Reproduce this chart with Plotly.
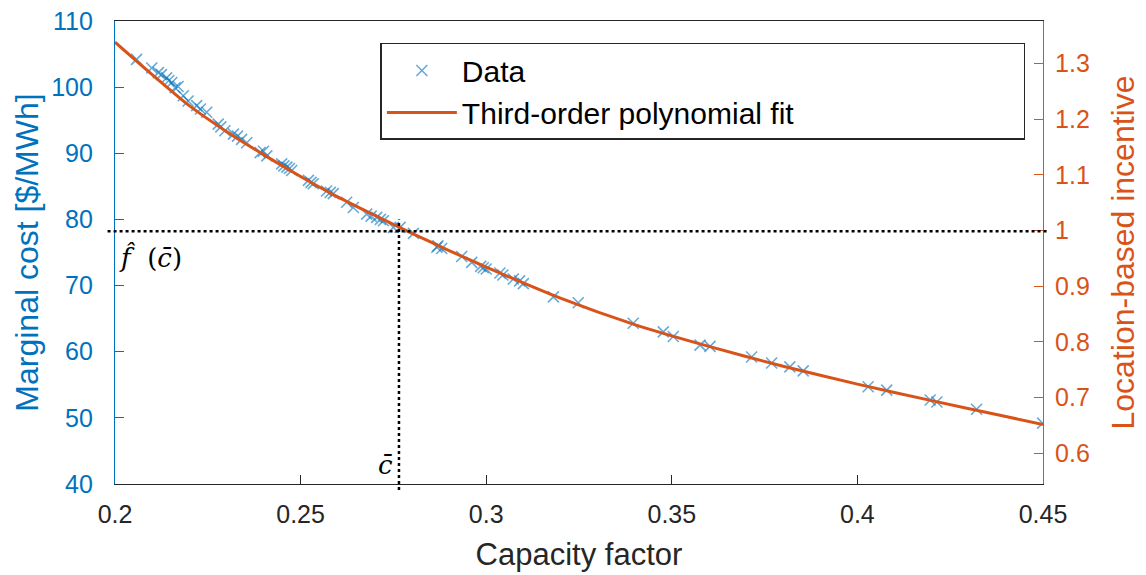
import plotly.graph_objects as go

# ---- data ----
data_cf = [0.2058, 0.2099, 0.2117, 0.2139, 0.2153, 0.2162, 0.2184, 0.2197, 0.2220, 0.2247,
           0.2278, 0.2296, 0.2319, 0.2341, 0.2355, 0.2391, 0.2409, 0.2449, 0.2463, 0.2476,
           0.2521, 0.2534, 0.2570, 0.2588, 0.2624, 0.2642, 0.2678, 0.2705, 0.2723, 0.2750,
           0.2768, 0.2804, 0.2867, 0.2880, 0.2934, 0.2961, 0.2992, 0.3037, 0.3073, 0.3100,
           0.3181, 0.3248, 0.3396, 0.3477, 0.3504, 0.3576, 0.3603, 0.3715, 0.3769, 0.3818,
           0.3854, 0.4029, 0.4079, 0.4196, 0.4214, 0.4321, 0.4499,
           0.2125, 0.2145, 0.2170, 0.2230, 0.2285, 0.2330, 0.2400, 0.2455, 0.2470, 0.2528,
           0.2580, 0.2690, 0.2715, 0.2870, 0.2985, 0.3000, 0.3045, 0.3090]
data_cost = [104.2, 102.9, 102.2, 101.4, 100.7, 99.9, 98.7, 97.9, 97.2, 96.2,
             94.4, 93.4, 92.9, 92.1, 91.6, 90.1, 89.6, 88.4, 87.9, 87.4,
             85.9, 85.4, 84.3, 83.9, 82.6, 81.8, 80.8, 80.3, 79.8, 78.8,
             78.8, 77.9, 75.8, 75.6, 74.4, 73.5, 72.7, 71.9, 71.0, 70.3,
             68.3, 67.4, 64.3, 63.0, 62.3, 61.0, 60.8, 59.2, 58.3, 57.7,
             57.1, 54.7, 54.2, 52.7, 52.4, 51.3, 49.2,
             101.9, 101.0, 100.1, 96.7, 94.0, 92.6, 90.3, 88.1, 87.7, 85.6,
             84.1, 80.5, 80.0, 76.0, 72.9, 72.5, 71.6, 70.7]

fit_cf = [0.20, 0.21, 0.22, 0.23, 0.24, 0.25, 0.26, 0.27, 0.28, 0.29, 0.30, 0.32, 0.34,
          0.36, 0.38, 0.40, 0.42, 0.44, 0.45]
fit_cost = [106.8, 101.9, 97.2, 93.3, 89.8, 86.5, 83.4, 80.6, 77.9, 75.3, 72.8, 68.1, 64.1,
            60.8, 57.8, 55.1, 52.6, 50.2, 49.0]

c_bar = 0.2765
f_hat_c = 78.2

x_ticks = [0.2, 0.25, 0.3, 0.35, 0.4, 0.45]
x_labels = ["0.2", "0.25", "0.3", "0.35", "0.4", "0.45"]
y_ticks = [40, 50, 60, 70, 80, 90, 100, 110]
y2_ticks = [0.6, 0.7, 0.8, 0.9, 1.0, 1.1, 1.2, 1.3]
y2_labels = ["0.6", "0.7", "0.8", "0.9", "1", "1.1", "1.2", "1.3"]

BLUE = "#0072BD"
ORANGE = "#D95319"
FONT = "Liberation Sans, Arial, sans-serif"
PAD = "\u00a0" * 27

fig = go.Figure()
fig.add_trace(go.Scatter(
    x=data_cf, y=data_cost, mode="markers", name="Data",
    marker=dict(symbol="x-thin-open", size=11, color="rgba(0,114,189,0.6)",
                line=dict(width=1.6, color="rgba(0,114,189,0.6)")),
))
fig.add_trace(go.Scatter(
    x=fit_cf, y=fit_cost, mode="lines", name="Third-order polynomial fit" + PAD,
    line=dict(color=ORANGE, width=3, shape="spline", smoothing=0.6),
))
# invisible trace to activate right axis
fig.add_trace(go.Scatter(x=[0.2], y=[1.0], yaxis="y2", mode="markers",
                         marker=dict(opacity=0), showlegend=False, hoverinfo="skip"))

fig.add_shape(type="line", xref="paper", yref="y", x0=-0.008, x1=1.005,
              y0=f_hat_c, y1=f_hat_c, line=dict(color="black", width=2.5, dash="dot"))
fig.add_shape(type="line", xref="x", yref="paper", x0=c_bar, x1=c_bar,
              y0=-0.013, y1=(80.0 - 40) / 70, line=dict(color="black", width=2.5, dash="dot"))

fig.add_annotation(x=0.2, y=f_hat_c, xref="x", yref="y", xanchor="left", yanchor="top",
                   xshift=2, yshift=-9, showarrow=False,
                   text="<i>f\u0302</i>\u00a0 (<i>c\u0304</i>)",
                   font=dict(family="DejaVu Serif, Liberation Serif, serif", size=26, color="black"))
fig.add_annotation(x=c_bar, y=0, xref="x", yref="paper", xanchor="right", yanchor="bottom",
                   xshift=-4, yshift=2, showarrow=False, text="<i>c\u0304</i>",
                   font=dict(family="DejaVu Serif, Liberation Serif, serif", size=26, color="black"))

fig.update_layout(
    width=1138, height=567,
    margin=dict(l=107, r=103, t=13, b=91, autoexpand=False),
    paper_bgcolor="white", plot_bgcolor="white",
    font=dict(family=FONT),
    showlegend=True,
    legend=dict(x=0.981, y=0.9526, xanchor="right", yanchor="top",
                bgcolor="white", bordercolor="#262626", borderwidth=1.5,
                font=dict(size=30, color="black"), itemwidth=70,
                tracegroupgap=0),
    xaxis=dict(range=[0.2, 0.45], tickvals=x_ticks, ticktext=x_labels, automargin=False,
               showgrid=False, zeroline=False, showline=True, linecolor="#262626",
               linewidth=1.2, mirror=True, ticks="inside", ticklen=9, tickcolor="#262626",
               tickfont=dict(size=25, color="#262626"), ticklabelstandoff=8,
               ticklabeloverflow="allow",
               title=dict(text="Capacity factor", font=dict(size=31, color="#262626"), standoff=16)),
    yaxis=dict(range=[40, 110], tickvals=y_ticks, showgrid=False, zeroline=False, automargin=False,
               showline=True, linecolor=BLUE, linewidth=1.2, ticks="inside", ticklen=9,
               tickcolor=BLUE, tickfont=dict(size=25, color=BLUE), ticklabelstandoff=16,
               ticklabeloverflow="allow",
               title=dict(text="Marginal cost [$/MWh]", font=dict(size=32, color=BLUE), standoff=2)),
    yaxis2=dict(range=[0.545, 1.376], tickvals=y2_ticks, ticktext=y2_labels, automargin=False,
                overlaying="y", side="right", showgrid=False, zeroline=False,
                showline=True, linecolor=ORANGE, linewidth=1.2, ticks="inside", ticklen=9,
                tickcolor=ORANGE, tickfont=dict(size=25, color=ORANGE), ticklabelstandoff=6,
                ticklabeloverflow="allow",
                title=dict(text="Location-based incentive", font=dict(size=32, color=ORANGE), standoff=22)),
)

fig.write_html("out.html")
